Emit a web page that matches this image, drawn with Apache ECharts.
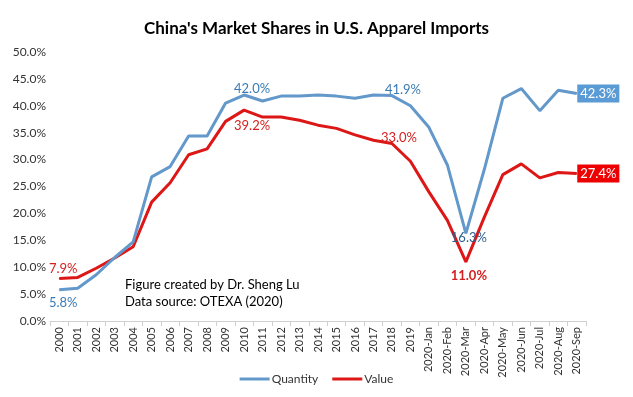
<!DOCTYPE html>
<html>
<head>
<meta charset="utf-8">
<script src="https://cdn.jsdelivr.net/npm/echarts@6/dist/echarts.min.js"></script>
<style>
  html, body { margin: 0; padding: 0; background: #fff; }
  #chart { width: 633px; height: 397px; }
</style>
</head>
<body>
<div id="chart"></div>
<script>
  // categories on x axis
  var categories = ['2000', '2001', '2002', '2003', '2004', '2005', '2006', '2007', '2008', '2009',
    '2010', '2011', '2012', '2013', '2014', '2015', '2016', '2017', '2018', '2019',
    '2020-Jan', '2020-Feb', '2020-Mar', '2020-Apr', '2020-May', '2020-Jun', '2020-Jul', '2020-Aug', '2020-Sep'];

  // market share, percent
  var quantity = [5.8, 6.1, 8.6, 11.8, 14.7, 26.8, 28.7, 34.4, 34.4, 40.5,
    42.0, 40.9, 41.8, 41.8, 42.0, 41.8, 41.4, 42.0, 41.9, 40.0,
    36.0, 29.0, 16.3, 28.2, 41.4, 43.2, 39.1, 42.9, 42.3];
  var value = [7.9, 8.1, 9.8, 11.7, 13.8, 22.1, 25.7, 30.9, 32.0, 37.1,
    39.2, 37.9, 37.9, 37.3, 36.4, 35.8, 34.6, 33.6, 33.0, 29.7,
    24.0, 18.7, 11.0, 19.3, 27.2, 29.2, 26.6, 27.6, 27.4];

  var yTicks = [0, 5, 10, 15, 20, 25, 30, 35, 40, 45, 50];

  var BLUE = '#6398cb';
  var RED = '#dd1616';
  var FONT = 'Lato, "Open Sans", sans-serif';

  // which points get a data label, and how
  var quantityLabels = {
    0: { position: 'bottom', distance: 6, offset: [4, 0], color: '#3a7bb5' },
    10: { position: 'top', distance: -1, offset: [8, 0], color: '#3a7bb5' },
    18: { position: 'top', distance: -1, offset: [11, 0], color: '#3a7bb5' },
    22: { position: 'bottom', distance: -2, offset: [3, 0], color: '#2f5f8f' },
    28: { position: 'right', distance: 0, color: '#fff', backgroundColor: '#5b9bd5', padding: [3, 3, 2, 3] }
  };
  var valueLabels = {
    0: { position: 'top', distance: 3, offset: [4, 0], color: '#d42020' },
    10: { position: 'bottom', distance: 9, offset: [8, 0], color: '#d42020' },
    18: { position: 'top', distance: -1, offset: [7, 0], color: '#d42020' },
    22: { position: 'bottom', distance: 7, offset: [3, 0], color: '#d42020', fontWeight: 'bold' },
    28: { position: 'right', distance: 0, color: '#fff', backgroundColor: '#ee0000', padding: [3, 3, 2, 3] }
  };

  function build(values, labels) {
    return values.map(function (v, i) {
      var item = { value: v };
      if (labels[i]) {
        item.label = Object.assign({
          show: true,
          fontSize: 13,
          fontFamily: FONT,
          formatter: function (p) { return p.value.toFixed(1) + '%'; }
        }, labels[i]);
      }
      return item;
    });
  }

  var chart = echarts.init(document.getElementById('chart'));
  chart.setOption({
    animation: false,
    title: {
      text: "China's Market Shares in U.S. Apparel Imports",
      left: 'center',
      top: 15,
      textStyle: { fontFamily: FONT, fontSize: 17, fontWeight: 'bold', color: '#000' }
    },
    grid: { left: 50, right: 47, top: 52, bottom: 76 },
    legend: {
      bottom: 7,
      left: 'center',
      itemWidth: 30,
      itemHeight: 3,
      itemGap: 14,
      icon: 'rect',
      textStyle: { fontFamily: FONT, fontSize: 12, color: '#333', padding: [0, 0, 0, -3] },
      data: ['Quantity', 'Value']
    },
    xAxis: {
      type: 'category',
      data: categories,
      axisLine: { lineStyle: { color: '#d0d0d0' } },
      axisTick: { show: true, alignWithLabel: false, length: 5, lineStyle: { color: '#d0d0d0' } },
      axisLabel: { rotate: 90, interval: 0, fontFamily: FONT, fontSize: 11, color: '#333', margin: 6 }
    },
    yAxis: {
      type: 'value',
      min: yTicks[0],
      max: yTicks[yTicks.length - 1],
      interval: 5,
      splitLine: { show: false },
      axisLine: { show: false },
      axisTick: { show: false },
      axisLabel: {
        fontFamily: FONT, fontSize: 12, color: '#333', margin: 4,
        formatter: function (v) { return v.toFixed(1) + '%'; }
      }
    },
    series: [
      {
        name: 'Quantity',
        type: 'line',
        data: build(quantity, quantityLabels),
        symbol: 'circle',
        symbolSize: 1,
        showSymbol: true,
        lineStyle: { color: BLUE, width: 3 },
        itemStyle: { color: BLUE },
        z: 4
      },
      {
        name: 'Value',
        type: 'line',
        data: build(value, valueLabels),
        symbol: 'circle',
        symbolSize: 1,
        showSymbol: true,
        lineStyle: { color: RED, width: 3 },
        itemStyle: { color: RED },
        z: 3
      }
    ],
    graphic: [
      {
        type: 'text',
        left: 125,
        top: 276,
        style: {
          text: 'Figure created by Dr. Sheng Lu\nData source: OTEXA (2020)',
          font: '13px ' + FONT,
          fill: '#000',
          lineHeight: 17
        }
      }
    ]
  });
</script>
</body>
</html>
